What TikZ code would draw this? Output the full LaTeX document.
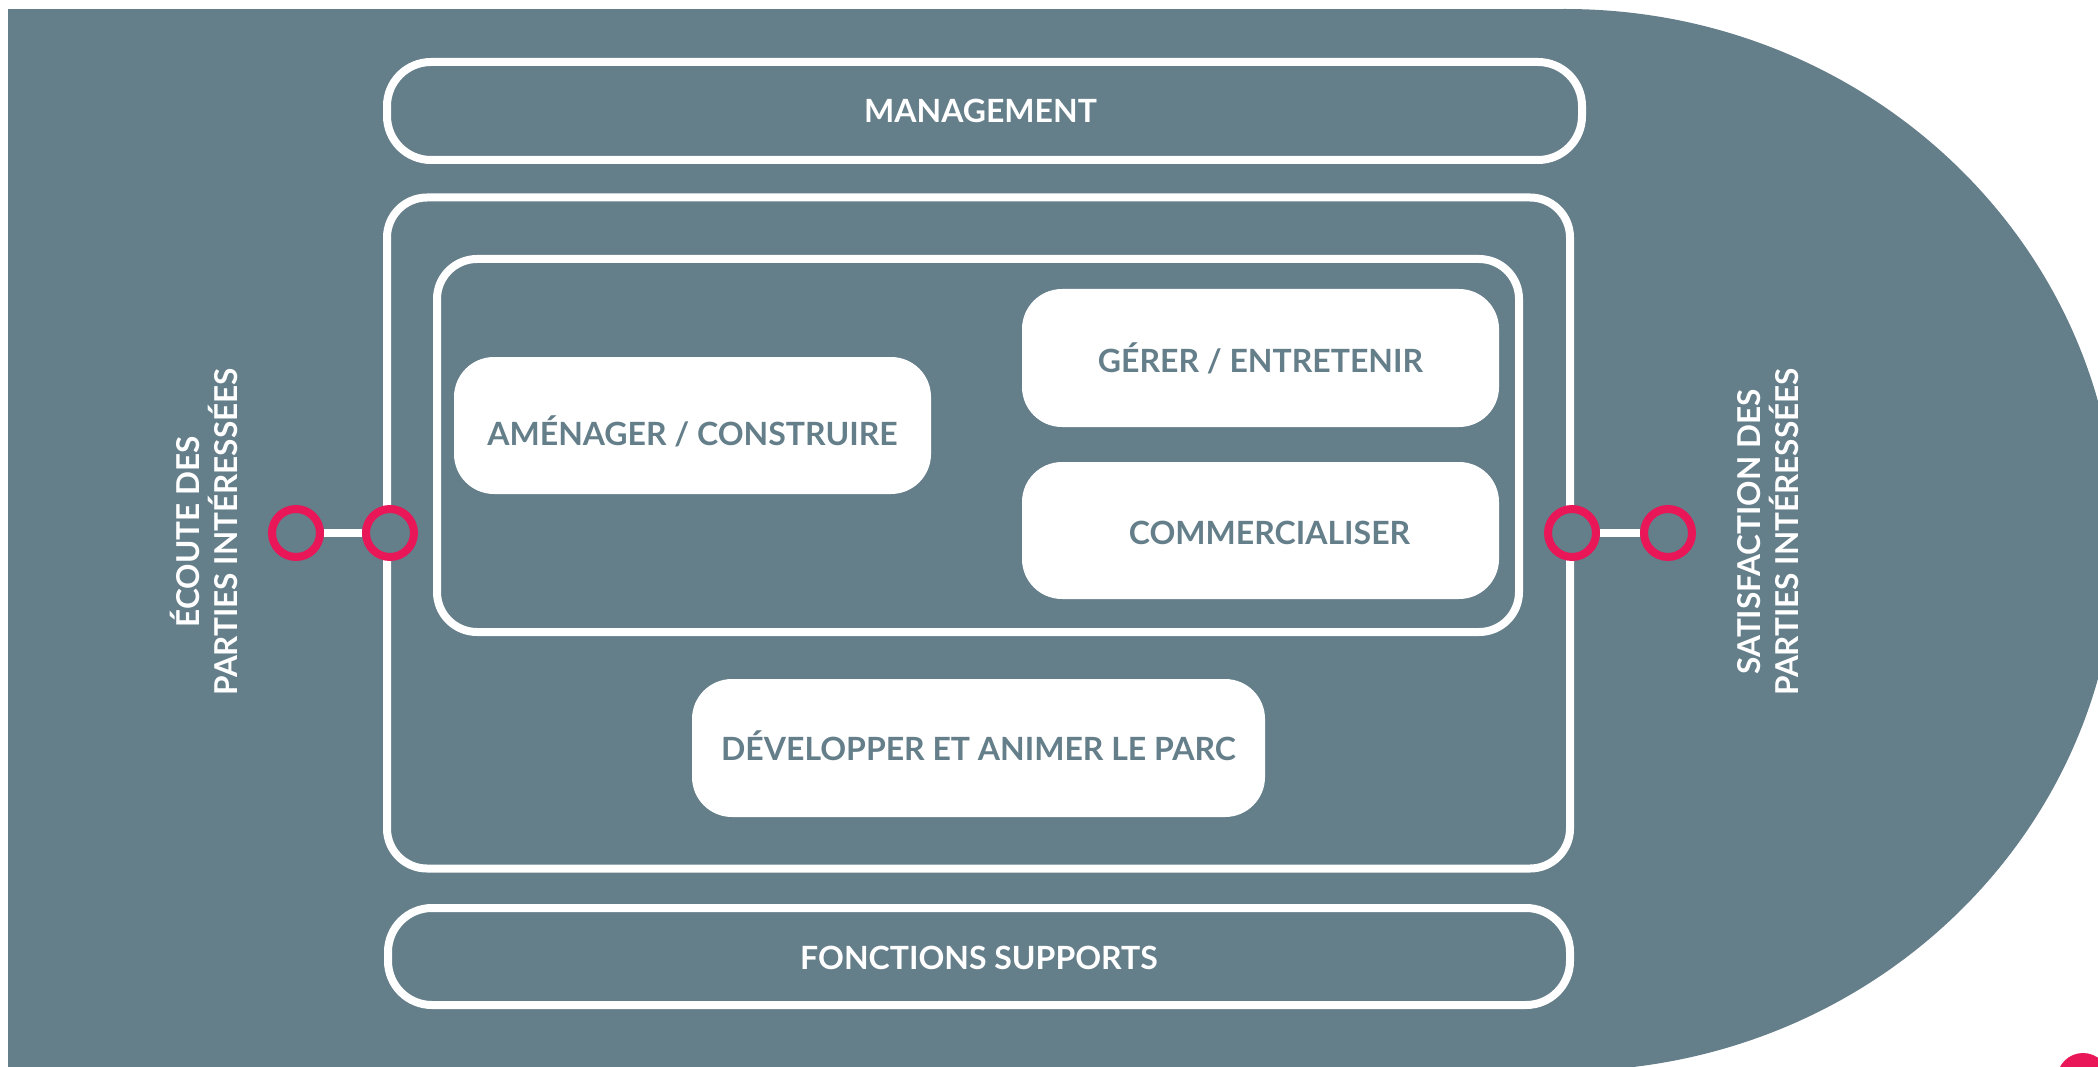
\documentclass[tikz,border=0pt]{standalone}
\usepackage{fontspec}
\setmainfont{Lato}
\definecolor{bgc}{RGB}{100,126,138}
\definecolor{pinkc}{RGB}{233,22,88}
\begin{document}
\begin{tikzpicture}[x=1pt,y=-1pt,
  outl/.style={rectangle,draw=white,line width=8pt,rounded corners=40pt,inner sep=0pt},
  wbox/.style={rectangle,fill=white,rounded corners=40pt,inner sep=0pt},
  ring/.style={circle,draw=pinkc,fill=bgc,line width=8pt,minimum size=48pt,inner sep=0pt},
  lbl/.style={font=\fontsize{32}{36}\selectfont\bfseries,text height=23pt,text depth=0pt,inner sep=0pt},
  vlbl/.style={font=\fontsize{31.5}{38}\selectfont\bfseries,text=white,align=center,rotate=90,inner sep=0pt},
  link/.style={draw=white,line width=8pt}
]
\useasboundingbox (0,0) rectangle (2098,1067);
\begin{scope}
\clip (0,0) rectangle (2098,1067);
% background shape
\fill[bgc] (8,9) rectangle (1566,1090);
\fill[bgc] (1565,540) ellipse [x radius=552pt, y radius=531pt];
\fill[pinkc] (2083,1079) circle [radius=26pt];
\end{scope}

% outline boxes
\node[outl,minimum width=1195pt,minimum height=98pt,rounded corners=44pt] (mgmt) at (984.5,111) {};
\node[lbl,text=white] (mgmtt) at ([xshift=-4pt]mgmt.center) {MANAGEMENT};
\node[outl,minimum width=1183pt,minimum height=671pt] (big) at (978.5,533) {};
\node[outl,minimum width=1082pt,minimum height=373pt] (inner) at (978,445.5) {};
\node[outl,minimum width=1182pt,minimum height=97pt,rounded corners=44pt] (fonct) at (979,956.5) {};
\node[lbl,text=white] (fonctt) at ([yshift=-1.5pt]fonct.center) {FONCTIONS SUPPORTS};

% white process boxes
\node[wbox,minimum width=477pt,minimum height=137pt] (amen) at (692.5,425.5) {};
\node[lbl,text=bgc] (ament) at ([yshift=-8pt]amen.center) {AMÉNAGER / CONSTRUIRE};
\node[wbox,minimum width=477pt,minimum height=138pt] (gerer) at (1260.5,358) {};
\node[lbl,text=bgc] (gerert) at ([yshift=-2.5pt]gerer.center) {GÉRER / ENTRETENIR};
\node[wbox,minimum width=477pt,minimum height=137pt] (comm) at (1260.5,530.5) {};
\node[lbl,text=bgc] (commt) at ([xshift=9pt,yshift=-2.5pt]comm.center) {COMMERCIALISER};
\node[wbox,minimum width=573pt,minimum height=138pt] (dev) at (978.5,748) {};
\node[lbl,text=bgc] (devt) at ([yshift=-1pt]dev.center) {DÉVELOPPER ET ANIMER LE PARC};

% rings and links
\node[ring] (l1) at (296,533) {};
\node[ring] (l2) at (390,533) {};
\node[ring] (r1) at (1572,533) {};
\node[ring] (r2) at (1668,533) {};
\draw[link] (l1) -- (l2);
\draw[link] (r1) -- (r2);

% side labels
\node[vlbl] (ecoute) at (204,532) {ÉCOUTE DES\\PARTIES INTÉRESSÉES};
\node[vlbl] (satis) at (1768,532) {SATISFACTION DES\\PARTIES INTÉRESSÉES};
\end{tikzpicture}
\end{document}
